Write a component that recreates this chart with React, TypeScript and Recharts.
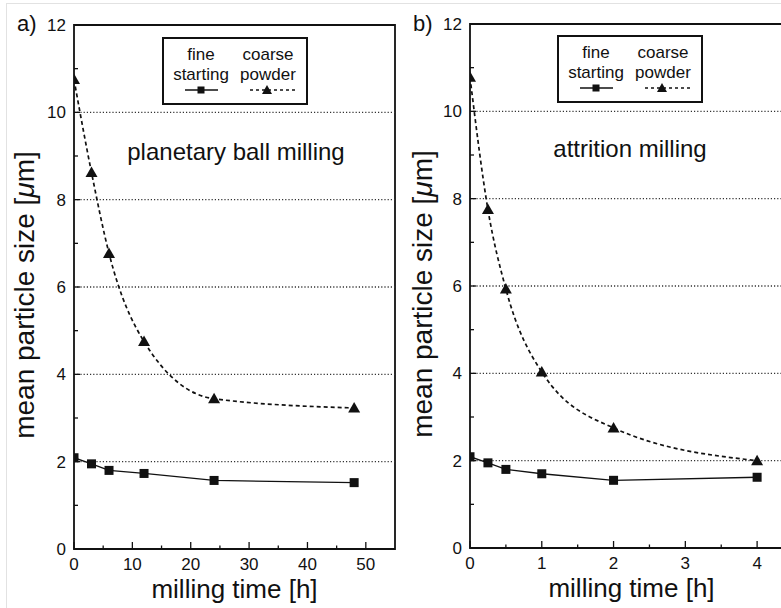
import { LineChart, Line, XAxis, YAxis, ReferenceLine, ReferenceArea, Legend } from "recharts";

// panel a: planetary ball milling, time in h
const timeA = [0, 3, 6, 12, 24, 48];
const fineA = [2.09, 1.95, 1.8, 1.73, 1.57, 1.52];
const coarseA = [10.75, 8.62, 6.77, 4.75, 3.44, 3.23];

// panel b: attrition milling, time in h
const timeB = [0, 0.25, 0.5, 1, 2, 4];
const fineB = [2.09, 1.95, 1.8, 1.7, 1.55, 1.62];
const coarseB = [10.78, 7.75, 5.93, 4.03, 2.75, 2.0];

const yTicks = [0, 1, 2, 3, 4, 5, 6, 7, 8, 9, 10, 11, 12];
const yLabels = [0, 2, 4, 6, 8, 10, 12];
const gridValues = [2, 4, 6, 8, 10];

const xTicksA = [0, 5, 10, 15, 20, 25, 30, 35, 40, 45, 50];
const xLabelsA = [0, 10, 20, 30, 40, 50];
const xTicksB = [0, 0.5, 1, 1.5, 2, 2.5, 3, 3.5, 4];
const xLabelsB = [0, 1, 2, 3, 4];

const INK = "#111";
const FONT = '"Liberation Sans", Arial, Helvetica, sans-serif';
const TICK_MARGIN = 6;

const toRows = (t: number[], fine: number[], coarse: number[]) =>
    t.map((time, i) => ({ time, fine: fine[i], coarse: coarse[i] }));

const YTick = (props: any) => {
    const { x, y, payload, labels } = props;
    const axisX = x + TICK_MARGIN;
    const major = labels.includes(payload.value);
    return (
        <g>
            <line x1={axisX} x2={axisX + (major ? 6 : 4)} y1={y} y2={y} stroke={INK} strokeWidth={1.3} />
            {major && (
                <text x={axisX - 8} y={y} dy="0.36em" textAnchor="end" fontSize={17} fontFamily={FONT} fill={INK}>
                    {payload.value}
                </text>
            )}
        </g>
    );
};

const XTick = (props: any) => {
    const { x, y, payload, labels } = props;
    const axisY = y - TICK_MARGIN;
    const major = labels.includes(payload.value);
    return (
        <g>
            <line x1={x} x2={x} y1={axisY} y2={axisY - (major ? 7 : 3.5)} stroke={INK} strokeWidth={1.3} />
            {major && (
                <text x={x} y={axisY + 21} textAnchor="middle" fontSize={17} fontFamily={FONT} fill={INK}>
                    {payload.value}
                </text>
            )}
        </g>
    );
};

const Square = (props: any) => {
    const { cx, cy, index } = props;
    return <rect key={`sq-${index}`} x={cx - 4.5} y={cy - 4.5} width={9} height={9} fill={INK} />;
};

const Triangle = (props: any) => {
    const { cx, cy, index } = props;
    return (
        <polygon
            key={`tri-${index}`}
            points={`${cx},${cy - 6} ${cx + 6},${cy + 4.5} ${cx - 6},${cy + 4.5}`}
            fill={INK}
        />
    );
};

const LegendBox = () => (
    <svg width={146} height={68} style={{ display: "block" }}>
        <rect x={1} y={1} width={144} height={66} fill="#fff" stroke={INK} strokeWidth={2} />
        <g fontSize={17} fontFamily={FONT} fill={INK} textAnchor="middle">
            <text x={39} y={23}>fine</text>
            <text x={39} y={43}>starting</text>
            <text x={106} y={23}>coarse</text>
            <text x={106} y={43}>powder</text>
        </g>
        <line x1={23} x2={56} y1={53} y2={53} stroke={INK} strokeWidth={1.3} />
        <rect x={35.5} y={49.5} width={7} height={7} fill={INK} />
        <line x1={88} x2={134} y1={53} y2={53} stroke={INK} strokeWidth={1.6} strokeDasharray="3 3" />
        <polygon points="105,48 110,57 100,57" fill={INK} />
    </svg>
);

interface PanelProps {
    rows: { time: number; fine: number; coarse: number }[];
    xMax: number;
    xTicks: number[];
    xLabels: number[];
    width: number;
    axisWidth: number;
    top: number;
    axisHeight: number;
    rightMargin: number;
    yLabelX: number;
    legendLeft: number;
    legendTop: number;
}

const Panel = ({ rows, xMax, xTicks, xLabels, width, axisWidth, top, axisHeight, rightMargin, yLabelX, legendLeft, legendTop }: PanelProps) => (
    <LineChart
        width={width}
        height={608}
        data={rows}
        margin={{ top, right: rightMargin, left: 0, bottom: 0 }}
    >
        <XAxis
            dataKey="time"
            type="number"
            domain={[0, xMax]}
            ticks={xTicks}
            interval={0}
            height={axisHeight}
            axisLine={false}
            tickLine={false}
            tickSize={0}
            tickMargin={TICK_MARGIN}
            tick={(p: any) => <XTick {...p} labels={xLabels} />}
            allowDataOverflow
            label={{
                content: (p: any) => {
                    const vb = p.viewBox || {};
                    return (
                        <text x={vb.x + vb.width / 2} y={vb.y + 49} textAnchor="middle" fontSize={26} fontFamily={FONT} fill={INK}>
                            milling time [h]
                        </text>
                    );
                },
            }}
        />
        <YAxis
            type="number"
            domain={[0, 12]}
            ticks={yTicks}
            interval={0}
            width={axisWidth}
            axisLine={false}
            tickLine={false}
            tickSize={0}
            tickMargin={TICK_MARGIN}
            tick={(p: any) => <YTick {...p} labels={yLabels} />}
            allowDataOverflow
            label={{
                content: (p: any) => {
                    const vb = p.viewBox || {};
                    const cx = vb.x + yLabelX;
                    const cy = vb.y + vb.height / 2 + 8;
                    return (
                        <text
                            x={cx}
                            y={cy}
                            transform={`rotate(-90, ${cx}, ${cy})`}
                            textAnchor="middle"
                            fontSize={28}
                            fontFamily={FONT}
                            fill={INK}
                        >
                            mean particle size [<tspan fontStyle="italic">μ</tspan>m]
                        </text>
                    );
                },
            }}
        />
        {gridValues.map((v) => (
            <ReferenceLine key={`g-${v}`} y={v} stroke="#333" strokeWidth={1.3} strokeDasharray="1.2 2" />
        ))}
        <ReferenceArea x1={0} x2={xMax} y1={0} y2={12} fill="none" stroke={INK} strokeWidth={1.8} fillOpacity={0} />
        <Line
            dataKey="fine"
            type="linear"
            stroke={INK}
            strokeWidth={1.3}
            dot={Square}
            isAnimationActive={false}
        />
        <Line
            dataKey="coarse"
            type="monotone"
            stroke={INK}
            strokeWidth={1.7}
            strokeDasharray="4 3"
            dot={Triangle}
            isAnimationActive={false}
        />
        <Legend
            layout="horizontal"
            verticalAlign="middle"
            align="center"
            wrapperStyle={{ position: "absolute", left: legendLeft, top: legendTop, width: 146, height: 68 }}
            content={() => <LegendBox />}
        />
    </LineChart>
);

export default function App() {
    return (
        <div
            style={{
                position: "absolute",
                left: 0,
                top: 0,
                width: 781,
                height: 608,
                overflow: "hidden",
                background: "#fff",
                fontFamily: FONT,
            }}
        >
            <div
                style={{
                    position: "absolute",
                    left: 6,
                    top: 3,
                    width: 800,
                    height: 700,
                    borderLeft: "1px solid #e2e2e2",
                    borderTop: "1px solid #e2e2e2",
                }}
            />
            <div style={{ position: "absolute", left: 0, top: 0 }}>
                <Panel
                    rows={toRows(timeA, fineA, coarseA)}
                    xMax={55}
                    xTicks={xTicksA}
                    xLabels={xLabelsA}
                    width={400}
                    axisWidth={74}
                    top={25}
                    axisHeight={59}
                    rightMargin={5}
                    yLabelX={34}
                    legendLeft={162}
                    legendTop={37}
                />
            </div>
            <div style={{ position: "absolute", left: 390, top: 0 }}>
                <Panel
                    rows={toRows(timeB, fineB, coarseB)}
                    xMax={4.5}
                    xTicks={xTicksB}
                    xLabels={xLabelsB}
                    width={403}
                    axisWidth={80}
                    top={24}
                    axisHeight={60}
                    rightMargin={0}
                    yLabelX={42}
                    legendLeft={167}
                    legendTop={35}
                />
            </div>
            <svg width={781} height={608} style={{ position: "absolute", left: 0, top: 0, pointerEvents: "none" }}>
                <g fontFamily={FONT} fill={INK}>
                    <text x={17} y={31} fontSize={22}>a)</text>
                    <text x={413} y={31} fontSize={22}>b)</text>
                    <text x={236} y={160} fontSize={24} textAnchor="middle">planetary ball milling</text>
                    <text x={630} y={157} fontSize={24} textAnchor="middle">attrition milling</text>
                </g>
            </svg>
        </div>
    );
}
